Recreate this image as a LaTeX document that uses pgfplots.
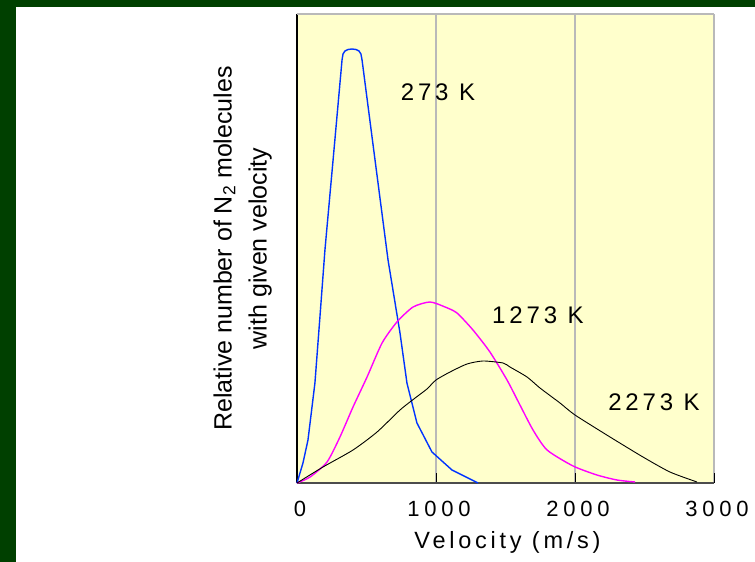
\documentclass[border=0pt]{standalone}
\usepackage{fontspec}
\setmainfont{Liberation Sans}
\newfontfamily\tickspaced[LetterSpace=22]{Liberation Sans}
\newfontfamily\labelspaced[LetterSpace=16]{Liberation Sans}
\usepackage{pgfplots}
\pgfplotsset{compat=1.18}
\definecolor{bordergreen}{RGB}{0,64,0}
\definecolor{plotbg}{RGB}{255,255,204}
\definecolor{gridgray}{RGB}{185,185,185}
\definecolor{curveblue}{RGB}{0,51,255}
\definecolor{curvemag}{RGB}{255,0,255}
\begin{document}
\begin{tikzpicture}
\fill[white] (-297pt,-79pt) rectangle (458pt,483pt);
\fill[bordergreen] (-297pt,-79pt) rectangle (-281pt,483pt);
\fill[bordergreen] (-297pt,476pt) rectangle (458pt,483pt);
\begin{axis}[
  at={(0,0)}, anchor=south west,
  scale only axis, width=417pt, height=469pt,
  xmin=0, xmax=3000, ymin=0, ymax=469,
  axis background/.style={fill=plotbg},
  axis x line*=bottom, axis y line*=left, axis line style={-},
  x axis line style={draw=black!70, line width=1.2pt},
  y axis line style={draw=black, line width=1.2pt},
  xtick={0,1000,2000,3000}, xticklabels={0,1000,2000,3000},
  ytick={0,469}, yticklabels={},
  tick align=inside, major tick length=10pt,
  tick style={black, line width=1pt},
  xmajorgrids, major grid style={gridgray, line width=2.2pt},
  xticklabel style={font=\tickspaced\fontsize{22}{26}\selectfont, yshift=-15pt, xshift=3pt},
  xlabel={Velocity (m/s)},
  xlabel style={font=\labelspaced\fontsize{23.5}{28}\selectfont, at={(axis description cs:0.5,-0.1407)}, anchor=base, xshift=2pt},
  ylabel={Relative number of N\textsubscript{2} molecules\\with given velocity},
  ylabel style={font=\fontsize{25}{35}\selectfont, align=center, at={(axis description cs:-0.06,0.5)}, anchor=south, inner sep=0pt},
  clip=false,
]
\draw[gridgray, line width=2.2pt] (axis cs:0,469) -- (axis cs:3000,469);
\addplot[curveblue, line width=1.4pt] coordinates {
(0,0) (43,20) (79,43) (129,100) (165,166) (201,233) (266,333) (324,423)
(331,429) (345,432) (367,433.5) (396,434) (424,433.5) (446,432) (460,429) (468,423)
(552,333) (655,223) (741,150) (791,100) (863,60) (971,31) (1115,13) (1302,0)
};
\addplot[curvemag, line width=1.4pt, smooth, tension=0.4] coordinates {
(0,0) (94,6) (216,21) (309,46) (403,76) (504,106) (612,140) (719,161) (835,176)
(957,181) (1065,176) (1151,170) (1266,153) (1388,131) (1511,103) (1604,78)
(1698,53) (1799,33) (1986,17) (2158,8) (2302,3) (2432,1)
};
\addplot[black, line width=0.9pt, smooth, tension=0.4] coordinates {
(0,0) (187,16) (403,33) (576,51) (741,73) (850,85) (935,94) (1000,103) (1101,111)
(1223,119) (1338,122) (1482,120) (1532,116) (1655,106) (1748,95) (1892,80)
(2000,68) (2252,46) (2489,26) (2683,11) (2878,1)
};
\node[font=\labelspaced\fontsize{24}{28}\selectfont, xshift=2pt] at (axis cs:1000,391) {273 K};
\node[font=\labelspaced\fontsize{24}{28}\selectfont, xshift=2pt] at (axis cs:1719,168) {1273 K};
\node[font=\labelspaced\fontsize{24}{28}\selectfont, xshift=2pt] at (axis cs:2554,81) {2273 K};
\end{axis}
\pgfresetboundingbox
\useasboundingbox (-297pt,-79pt) rectangle (458pt,483pt);
\end{tikzpicture}
\end{document}
